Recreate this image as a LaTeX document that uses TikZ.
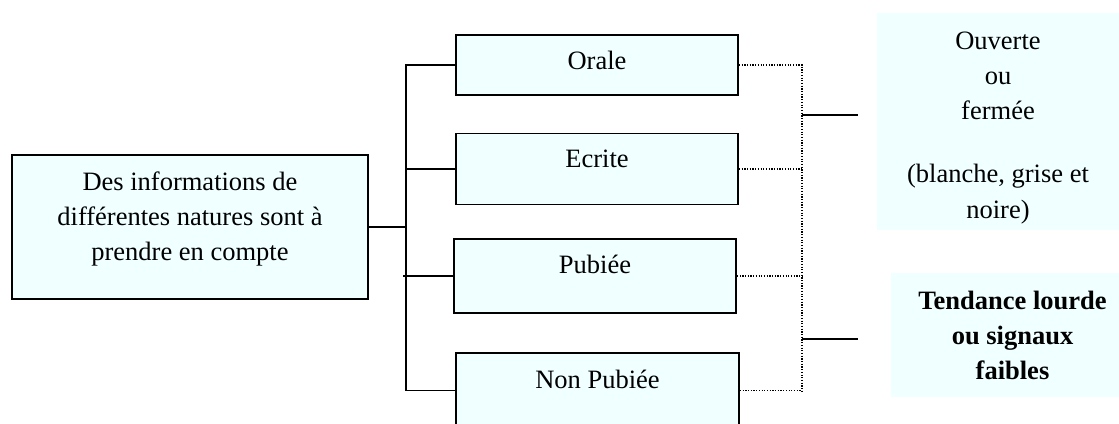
\documentclass[tikz,border=0pt]{standalone}
\usepackage{fontspec}
\setmainfont{Liberation Serif}
\definecolor{boxfill}{RGB}{240,255,255}
\begin{document}
\begin{tikzpicture}[x=1pt,y=-1pt,
  box/.style={draw=black, line width=1.8pt, fill=boxfill, rectangle, inner sep=0pt},
  note/.style={fill=boxfill, rectangle, inner sep=0pt},
  txt/.style={anchor=base, inner sep=0pt, font=\fontsize{26.5}{35.3}\selectfont},
  link/.style={line width=1.8pt},
  dotline/.style={line width=1.1pt, dash pattern=on 1.2pt off 1.5pt}]
\useasboundingbox (0,0) rectangle (1119,423);

% boxes
\node[box, minimum width=356pt, minimum height=144pt] (main) at (190,227) {};
\node[box, minimum width=282pt, minimum height=60pt] (orale) at (597,65) {};
\node[box, minimum width=282pt, minimum height=71pt] (ecrite) at (597,169) {};
\node[box, minimum width=282pt, minimum height=74pt] (pub) at (595,276) {};
\node[box, minimum width=283pt, minimum height=75pt] (nonpub) at (597.5,390.5) {};
\node[note, minimum width=248pt, minimum height=217pt] (note1) at (1001,121.5) {};
\node[note, minimum width=234pt, minimum height=124pt] (note2) at (1008,335) {};

% texts
\node[txt] (maintxt) at (190,190) {\begin{tabular}[t]{@{}c@{}}Des informations de\\ différentes natures sont à\\ prendre en compte\end{tabular}};
\node[txt] (oraletxt) at (597,69) {Orale};
\node[txt] (ecritetxt) at (597,167) {Ecrite};
\node[txt] (pubtxt) at (595,273) {Pubiée};
\node[txt] (nonpubtxt) at (597.5,388) {Non Pubiée};
\node[txt] (note1txt) at (998,49) {\begin{tabular}[t]{@{}c@{}}Ouverte\\ ou\\ fermée\\[28pt] (blanche, grise et\\ noire)\end{tabular}};
\node[txt] (note2txt) at (1012.5,309) {\bfseries\begin{tabular}[t]{@{}c@{}}Tendance lourde\\ ou signaux\\ faibles\end{tabular}};

% solid tree
\coordinate (trunk) at (406,227);
\draw[link] (main.east) -- (main.east -| trunk);
\draw[link] (orale.west) -- (orale.west -| trunk) -- (nonpub.west -| trunk) -- (nonpub.west);
\draw[link] (ecrite.west) -- (ecrite.west -| trunk);
\draw[link] (pub.west) -- ([xshift=-3pt]pub.west -| trunk);

% dotted collector
\coordinate (dbot) at (802,393);
\draw[dotline] (orale.east) -- (orale.east -| dbot) -- (dbot);
\draw[dotline] (ecrite.east) -- (ecrite.east -| dbot);
\draw[dotline] (pub.east) -- (pub.east -| dbot);
\draw[dotline] (nonpub.east) -- (nonpub.east -| dbot);

% short solid lines
\coordinate (s1a) at (802,115);
\coordinate (s1b) at (858,115);
\coordinate (s2a) at (802,339);
\coordinate (s2b) at (858,339);
\draw[link] (s1a) -- (s1b);
\draw[link] (s2a) -- (s2b);
\end{tikzpicture}
\end{document}
